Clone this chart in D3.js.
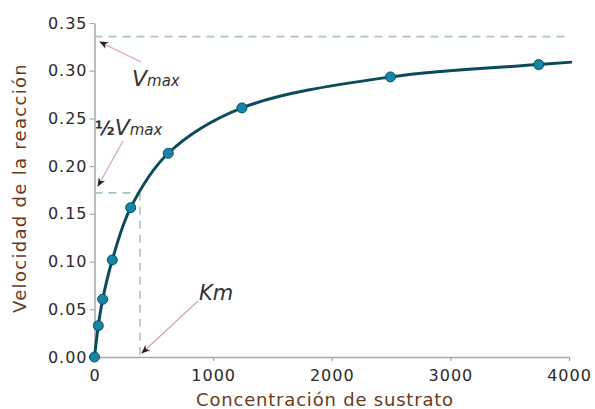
<!DOCTYPE html>
<html>
<head>
<meta charset="utf-8">
<script src="https://cdn.jsdelivr.net/npm/d3@7"></script>
<style>
  body { margin: 0; background: #fff; }
  text { font-family: "DejaVu Sans", sans-serif; }
</style>
</head>
<body>
<div id="chart"></div>
<script>
var substrate = [0, 32, 69, 150, 305, 622, 1243, 2495, 3745];
var velocity = [0, 0.0328, 0.0605, 0.1017, 0.1565, 0.2135, 0.261, 0.2935, 0.3064];
// the fitted curve runs a little past the last point
var curveX = [0, 32, 69, 150, 305, 622, 1243, 2495, 3745, 4025];
var curveY = [0, 0.0328, 0.0605, 0.1017, 0.1565, 0.2135, 0.261, 0.2935, 0.3064, 0.309];

var xTicks = [0, 1000, 2000, 3000, 4000];
var yTicks = [0, 0.05, 0.10, 0.15, 0.20, 0.25, 0.30, 0.35];

var vmax = 0.3357;
var halfVmax = 0.172;
var km = 383;

var width = 595, height = 409;

var x = d3.scaleLinear().domain([0, 4000]).range([94.5, 569]);
var y = d3.scaleLinear().domain([0, 0.35]).range([357, 23]);

var svg = d3.select('#chart').append('svg')
  .attr('width', width)
  .attr('height', height);

var defs = svg.append('defs');
defs.append('marker')
  .attr('id', 'arrow')
  .attr('viewBox', '0 0 10 10')
  .attr('refX', 9).attr('refY', 5)
  .attr('markerWidth', 9).attr('markerHeight', 9)
  .attr('markerUnits', 'userSpaceOnUse')
  .attr('orient', 'auto')
  .append('path')
  .attr('d', 'M0,1 L10,5 L0,9 L3,5 Z')
  .attr('fill', '#222');

// axes
var xAxis = svg.append('g')
  .attr('transform', 'translate(0,' + y(0) + ')')
  .call(d3.axisBottom(x).tickValues(xTicks).tickSize(4).tickSizeOuter(0).tickFormat(d3.format('d')));

var yAxis = svg.append('g')
  .attr('transform', 'translate(' + x(0) + ',0)')
  .call(d3.axisLeft(y).tickValues(yTicks).tickSize(5).tickSizeOuter(0).tickFormat(d3.format('.2f')));

[xAxis, yAxis].forEach(function(a) {
  a.select('.domain').attr('stroke', '#a8a8a8').attr('stroke-width', 1.5);
  a.selectAll('.tick line').attr('stroke', '#a8a8a8').attr('stroke-width', 1.2);
  a.selectAll('.tick text')
    .attr('fill', '#2a2a2a')
    .style('font-size', '16px')
    .style('letter-spacing', '1px')
    .style('font-family', '"DejaVu Sans", sans-serif');
});
xAxis.selectAll('.tick text').attr('dy', '1.05em');
yAxis.selectAll('.tick text').attr('x', -7);

// dashed guide lines
var dash = '8,6';
svg.append('line')
  .attr('x1', x(0)).attr('x2', x(4000))
  .attr('y1', y(vmax)).attr('y2', y(vmax))
  .attr('stroke', '#a9c6bb').attr('stroke-width', 1.6).attr('stroke-dasharray', dash);
svg.append('line')
  .attr('x1', x(0)).attr('x2', x(km))
  .attr('y1', y(halfVmax)).attr('y2', y(halfVmax))
  .attr('stroke', '#a9c6bb').attr('stroke-width', 1.6).attr('stroke-dasharray', dash);
svg.append('line')
  .attr('x1', x(km)).attr('x2', x(km))
  .attr('y1', y(halfVmax)).attr('y2', y(0))
  .attr('stroke', '#a9c6bb').attr('stroke-width', 1.6).attr('stroke-dasharray', dash);

// curve
var pts = curveX.map(function(d, i) { return [d, curveY[i]]; });
var line = d3.line()
  .x(function(d) { return x(d[0]); })
  .y(function(d) { return y(d[1]); })
  .curve(d3.curveCatmullRom.alpha(0.5));

svg.append('path')
  .datum(pts)
  .attr('d', line)
  .attr('fill', 'none')
  .attr('stroke', '#0c4b5a')
  .attr('stroke-width', 3);

svg.selectAll('.dot')
  .data(substrate)
  .enter()
  .append('circle')
  .classed('dot', true)
  .attr('cx', function(d) { return x(d); })
  .attr('cy', function(d, i) { return y(velocity[i]); })
  .attr('r', 5)
  .attr('fill', '#1487a8')
  .attr('stroke', '#0c4b5a')
  .attr('stroke-width', 1);

// annotations
function arrow(x1, y1, x2, y2) {
  svg.append('line')
    .attr('x1', x1).attr('y1', y1).attr('x2', x2).attr('y2', y2)
    .attr('stroke', '#d6a3a3').attr('stroke-width', 1.2)
    .attr('marker-end', 'url(#arrow)');
}
arrow(141, 62, 100, 42);
arrow(123, 141, 98, 186);
arrow(198, 301, 142, 353);

var vlab = svg.append('text').attr('x', 132).attr('y', 86)
  .attr('fill', '#333').style('font-style', 'italic');
vlab.append('tspan').style('font-size', '22px').text('V');
vlab.append('tspan').style('font-size', '15px').text('max');

var hlab = svg.append('text').attr('x', 95).attr('y', 135)
  .attr('fill', '#333').style('font-style', 'italic');
hlab.append('tspan').style('font-size', '19px').style('font-style', 'normal').style('font-weight', 'bold').text('½');
hlab.append('tspan').style('font-size', '22px').text('V');
hlab.append('tspan').style('font-size', '15px').text('max');

svg.append('text').attr('x', 199).attr('y', 300)
  .attr('fill', '#333').style('font-style', 'italic').style('font-size', '21px')
  .text('Km');

// axis titles
svg.append('text')
  .attr('x', 325).attr('y', 406)
  .attr('text-anchor', 'middle')
  .attr('fill', '#6b3a1c')
  .style('font-size', '18px')
  .style('letter-spacing', '0.8px')
  .style('font-family', '"DejaVu Sans", sans-serif')
  .text('Concentración de sustrato');

svg.append('text')
  .attr('transform', 'translate(26,' + 188 + ') rotate(-90)')
  .attr('text-anchor', 'middle')
  .attr('fill', '#6b3a1c')
  .style('font-size', '18px')
  .style('letter-spacing', '1.3px')
  .text('Velocidad de la reacción');
</script>
</body>
</html>
